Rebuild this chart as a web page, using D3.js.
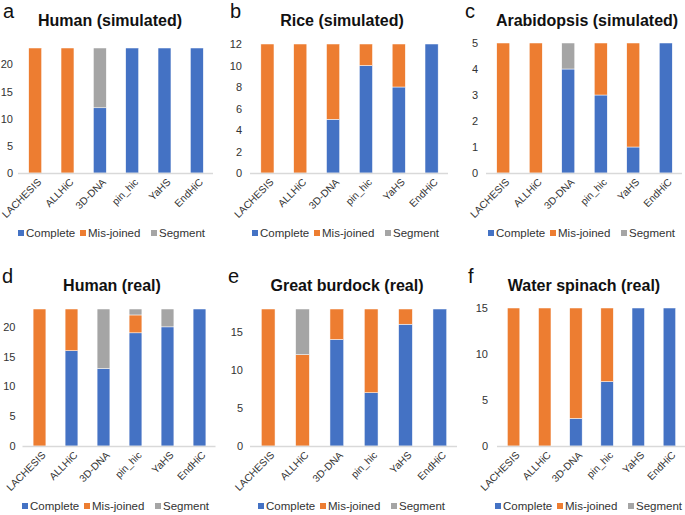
<!DOCTYPE html>
<html>
<head>
<meta charset="utf-8">
<script src="https://cdn.jsdelivr.net/npm/d3@7"></script>
<style>
  body { margin: 0; background: #fff; }
  text { font-family: "Liberation Sans", Arial, sans-serif; }
</style>
</head>
<body>
<div id="chart"></div>
<script>
// Categories and series
var methods = ["LACHESIS", "ALLHiC", "3D-DNA", "pin_hic", "YaHS", "EndHiC"];
var seriesNames = ["Complete", "Mis-joined", "Segment"];
var seriesColors = ["#4472C4", "#ED7D31", "#A5A5A5"];

// a - Human (simulated)
var humanSimComplete = [0, 0, 12, 23, 23, 23];
var humanSimMisjoined = [23, 23, 0, 0, 0, 0];
var humanSimSegment = [0, 0, 11, 0, 0, 0];
var humanSimTicks = [0, 5, 10, 15, 20];

// b - Rice (simulated)
var riceComplete = [0, 0, 5, 10, 8, 12];
var riceMisjoined = [12, 12, 7, 2, 4, 0];
var riceSegment = [0, 0, 0, 0, 0, 0];
var riceTicks = [0, 2, 4, 6, 8, 10, 12];

// c - Arabidopsis (simulated)
var arabComplete = [0, 0, 4, 3, 1, 5];
var arabMisjoined = [5, 5, 0, 2, 4, 0];
var arabSegment = [0, 0, 1, 0, 0, 0];
var arabTicks = [0, 1, 2, 3, 4, 5];

// d - Human (real)
var humanRealComplete = [0, 16, 13, 19, 20, 23];
var humanRealMisjoined = [23, 7, 0, 3, 0, 0];
var humanRealSegment = [0, 0, 10, 1, 3, 0];
var humanRealTicks = [0, 5, 10, 15, 20];

// e - Great burdock (real)
var burdockComplete = [0, 0, 14, 7, 16, 18];
var burdockMisjoined = [18, 12, 4, 11, 2, 0];
var burdockSegment = [0, 6, 0, 0, 0, 0];
var burdockTicks = [0, 5, 10, 15];

// f - Water spinach (real)
var spinachComplete = [0, 0, 3, 7, 15, 15];
var spinachMisjoined = [15, 15, 12, 8, 0, 0];
var spinachSegment = [0, 0, 0, 0, 0, 0];
var spinachTicks = [0, 5, 10, 15];

// Panel layout
var panels = [
  { letter: "a", title: "Human (simulated)", series: [humanSimComplete, humanSimMisjoined, humanSimSegment], ticks: humanSimTicks, max: 23,
    x0: 19, x1: 213, top: 48, bottom: 173, titleX: 110, letterX: 3, legendX: 21, yPad: 6 },
  { letter: "b", title: "Rice (simulated)", series: [riceComplete, riceMisjoined, riceSegment], ticks: riceTicks, max: 12,
    x0: 251, x1: 448, top: 44, bottom: 173, titleX: 342, letterX: 230, legendX: 255, yPad: 9 },
  { letter: "c", title: "Arabidopsis (simulated)", series: [arabComplete, arabMisjoined, arabSegment], ticks: arabTicks, max: 5,
    x0: 487, x1: 682, top: 43, bottom: 173, titleX: 587, letterX: 465, legendX: 491, yPad: 9 },
  { letter: "d", title: "Human (real)", series: [humanRealComplete, humanRealMisjoined, humanRealSegment], ticks: humanRealTicks, max: 23,
    x0: 23.5, x1: 215.5, top: 309, bottom: 446, titleX: 112, letterX: 2, legendX: 25, yPad: 8 },
  { letter: "e", title: "Great burdock (real)", series: [burdockComplete, burdockMisjoined, burdockSegment], ticks: burdockTicks, max: 18,
    x0: 251, x1: 457, top: 309, bottom: 446, titleX: 347, letterX: 228, legendX: 261, yPad: 8 },
  { letter: "f", title: "Water spinach (real)", series: [spinachComplete, spinachMisjoined, spinachSegment], ticks: spinachTicks, max: 15,
    x0: 498, x1: 685, top: 308, bottom: 446, titleX: 584, letterX: 468, legendX: 498, yPad: 10 }
];

var svg = d3.select("#chart")
  .append("svg")
  .attr("width", 685)
  .attr("height", 515);

panels.forEach(function (p) {
  var rowTop = p.top < 200 ? 0 : 265;

  var g = svg.append("g");

  // Build stacked table
  var table = methods.map(function (m, i) {
    var row = { method: m };
    seriesNames.forEach(function (s, k) { row[s] = p.series[k][i]; });
    return row;
  });
  var stacked = d3.stack().keys(seriesNames)(table);

  var xScale = d3.scaleBand()
    .domain(methods)
    .range([p.x0, p.x1])
    .paddingInner(0.6)
    .paddingOuter(0.3);

  var yScale = d3.scaleLinear()
    .domain([0, p.max])
    .range([p.bottom, p.top]);

  // Bars
  g.selectAll("g.layer")
    .data(stacked)
    .enter().append("g")
    .attr("fill", function (d, k) { return seriesColors[k]; })
    .selectAll("rect")
    .data(function (d) { return d; })
    .enter().append("rect")
    .filter(function (d) { return d[1] > d[0]; })
    .attr("x", function (d) { return xScale(d.data.method); })
    .attr("width", xScale.bandwidth())
    .attr("y", function (d) { return yScale(d[1]); })
    .attr("height", function (d) { return yScale(d[0]) - yScale(d[1]); })
    .attr("stroke", "#fff")
    .attr("stroke-width", 0.5);

  // Y axis (labels only)
  var yAxis = g.append("g")
    .attr("transform", "translate(" + p.x0 + ",0)")
    .call(d3.axisLeft(yScale).tickValues(p.ticks).tickFormat(d3.format("d")).tickSize(0).tickPadding(p.yPad));
  yAxis.select(".domain").remove();
  yAxis.selectAll("text").attr("font-size", 11).attr("fill", "#333")
    .attr("font-family", "Liberation Sans, Arial, sans-serif");

  // X axis line
  var xAxis = g.append("g")
    .attr("transform", "translate(0," + p.bottom + ")")
    .call(d3.axisBottom(xScale).tickSize(0).tickSizeOuter(0).tickFormat(""));
  xAxis.select(".domain").attr("stroke", "#D9D9D9").attr("stroke-width", 1.5)
    .attr("d", "M" + (p.x0 - 1) + ",0.5H" + p.x1);

  // X labels, rotated 45 degrees
  g.selectAll("text.xlab")
    .data(methods)
    .enter().append("text")
    .attr("class", "xlab")
    .attr("text-anchor", "end")
    .attr("font-size", 10.2)
    .attr("fill", "#333")
    .attr("dy", "0.25em")
    .attr("transform", function (d) {
      var cx = xScale(d) + xScale.bandwidth() / 2 + 5;
      return "translate(" + cx + "," + (p.bottom + 8) + ") rotate(-45)";
    })
    .text(function (d) { return d; });

  // Title and panel letter
  g.append("text")
    .attr("x", p.titleX)
    .attr("y", rowTop + 26)
    .attr("text-anchor", "middle")
    .attr("font-size", 16)
    .attr("font-weight", "bold")
    .attr("fill", "#111")
    .text(p.title);

  g.append("text")
    .attr("x", p.letterX)
    .attr("y", rowTop + 18)
    .attr("font-size", 20)
    .attr("fill", "#111")
    .text(p.letter);

  // Legend
  var legendY = p.bottom + 64;
  var offsets = [0, 62, 133];
  seriesNames.forEach(function (s, k) {
    var lx = p.legendX + offsets[k];
    g.append("rect")
      .attr("x", lx - 3)
      .attr("y", legendY - 7)
      .attr("width", 6)
      .attr("height", 6)
      .attr("fill", seriesColors[k]);
    g.append("text")
      .attr("x", lx + 5)
      .attr("y", legendY)
      .attr("font-size", 11.5)
      .attr("fill", "#333")
      .text(s);
  });
});
</script>
</body>
</html>
